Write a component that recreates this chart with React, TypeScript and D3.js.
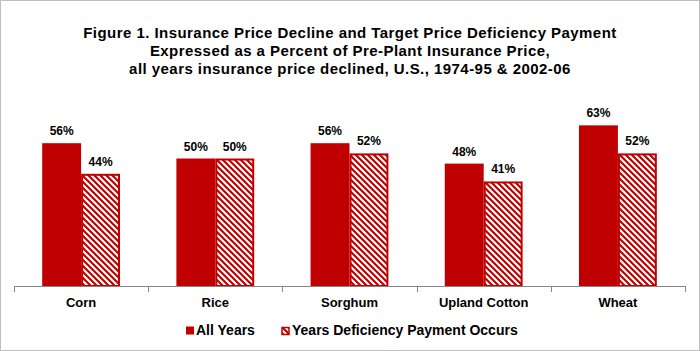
import React from 'react';
import * as d3 from 'd3';

const CATEGORIES = ['Corn', 'Rice', 'Sorghum', 'Upland Cotton', 'Wheat'];
const ALL_YEARS = [0.56, 0.5, 0.56, 0.48, 0.63];
const DEFICIENCY_YEARS = [0.44, 0.5, 0.52, 0.41, 0.52];
const SERIES_NAMES = ['All Years', 'Years Deficiency Payment Occurs'];
const TITLE_LINES = [
  'Figure 1. Insurance Price Decline and Target Price Deficiency Payment',
  'Expressed as a Percent of Pre-Plant Insurance Price,',
  'all years insurance price declined, U.S., 1974-95 & 2002-06',
];

const RED = '#c00000';
const FONT = 'Arial, "Liberation Sans", sans-serif';

const width = 700;
const height = 351;
const axisY = 286;

export default function App() {
  const x0 = d3.scaleBand<string>().domain(CATEGORIES).range([14, 685]).paddingInner(0);
  const bw = x0.bandwidth();
  const barW = bw * 0.29;
  const y = d3.scaleLinear().domain([0, 0.7]).range([axisY, axisY - 0.7 * 255]);
  const fmt = d3.format('.0%');

  // tick marks sit on the category boundaries
  const ticks = CATEGORIES.map((c) => x0(c) as number).concat([x0.range()[1]]);

  return (
    <svg
      width={width}
      height={height}
      style={{ position: 'absolute', left: 0, top: 0, background: '#fff' }}
      fontFamily={FONT}
    >
      <defs>
        <pattern id="hatch" patternUnits="userSpaceOnUse" width={6} height={6}>
          <rect width={6} height={6} fill={RED} />
          <path d="M0,0 L6,6 M-1,5 L1,7 M5,-1 L7,1" stroke="#fff" strokeWidth={2.1} />
        </pattern>
      </defs>
      <rect x={0.5} y={0.5} width={width - 1} height={height - 1} fill="#fff" stroke="#bfbfbf" />

      {TITLE_LINES.map((t, i) => (
        <text
          key={i}
          x={width / 2}
          y={37.5 + i * 18}
          textAnchor="middle"
          fontSize={15}
          fontWeight="bold"
          letterSpacing={0.45}
        >
          {t}
        </text>
      ))}

      {CATEGORIES.map((c, i) => {
        const cx = (x0(c) as number) + bw / 2;
        const v1 = ALL_YEARS[i];
        const v2 = DEFICIENCY_YEARS[i];
        return (
          <g key={c}>
            <rect x={cx - barW} y={y(v1)} width={barW} height={axisY - y(v1)} fill={RED} />
            <rect
              x={cx + 1}
              y={y(v2) + 1}
              width={barW - 2}
              height={axisY - y(v2) - 1}
              fill="url(#hatch)"
              stroke={RED}
              strokeWidth={2}
            />
            <text x={cx - barW / 2} y={y(v1) - 8} textAnchor="middle" fontSize={12} fontWeight="bold">
              {fmt(v1)}
            </text>
            <text x={cx + barW / 2} y={y(v2) - 8} textAnchor="middle" fontSize={12} fontWeight="bold">
              {fmt(v2)}
            </text>
            <text x={cx} y={307} textAnchor="middle" fontSize={13} fontWeight="bold">
              {c}
            </text>
          </g>
        );
      })}

      <line x1={14} x2={685} y1={axisY + 0.5} y2={axisY + 0.5} stroke="#868686" />
      {ticks.map((t, i) => (
        <line key={i} x1={Math.round(t) + 0.5} x2={Math.round(t) + 0.5} y1={axisY} y2={axisY + 6} stroke="#868686" />
      ))}

      <g>
        <rect x={186} y={326.5} width={8} height={8} fill={RED} />
        <text x={196} y={334.5} fontSize={14} fontWeight="bold">
          {SERIES_NAMES[0]}
        </text>
        <rect x={282} y={327.5} width={7} height={7} fill="url(#hatch)" stroke={RED} strokeWidth={1.5} />
        <text x={292} y={334.5} fontSize={14} fontWeight="bold">
          {SERIES_NAMES[1]}
        </text>
      </g>
    </svg>
  );
}
